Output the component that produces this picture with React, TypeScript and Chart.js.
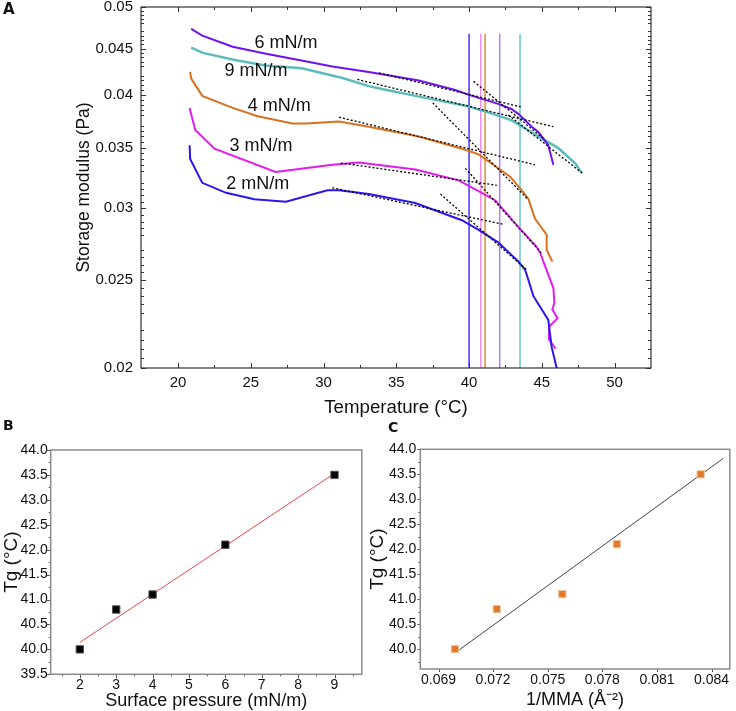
import React, { useEffect, useRef } from 'react';
import { Chart, registerables } from 'chart.js';
Chart.register(...registerables);

const FONT = "'Liberation Sans', Arial, Helvetica, sans-serif";

// ---------- Panel A data ----------
const tempTicksA = [20, 25, 30, 35, 40, 45, 50];
const tempMinorA = [22.5, 27.5, 32.5, 37.5, 42.5, 47.5];
const modTicksA = [0.02, 0.025, 0.03, 0.035, 0.04, 0.045, 0.05];
const modTickLabelsA = ['0.02', '0.025', '0.03', '0.035', '0.04', '0.045', '0.05'];

const curveNames = ['2 mN/m', '3 mN/m', '4 mN/m', '6 mN/m', '9 mN/m'];
const curveColors = ['#2a16f0', '#e21cf0', '#d8701e', '#6f12f5', '#5cbcbc'];

const c2T = [20.79, 20.83, 21.66, 23.3, 25.24, 27.41, 30.26, 31.06, 33.1, 36.3, 39.5, 40.65, 42.02, 43.39, 43.85, 44.42, 45.44, 45.5, 45.67, 46.05];
const c2V = [0.0352, 0.034, 0.032, 0.0312, 0.0307, 0.0305, 0.0314, 0.0314, 0.0311, 0.0304, 0.0291, 0.0284, 0.0275, 0.0262, 0.02566, 0.024, 0.0226, 0.0222, 0.0211, 0.0199];

const c3T = [20.79, 21.18, 22.5, 26.7, 30.6, 32.43, 36.3, 39.28, 40.87, 41.8, 43.39, 44.64, 44.88, 45.22, 45.79, 45.86, 45.72, 46.08, 45.49, 45.49, 45.94];
const c3V = [0.0387, 0.0366, 0.0349, 0.0329, 0.0335, 0.0337, 0.0331, 0.0322, 0.0312, 0.0306, 0.0286, 0.0272, 0.0268, 0.0259, 0.0245, 0.0236, 0.0232, 0.0227, 0.0222, 0.0215, 0.021];

const c4T = [20.83, 20.9, 21.66, 23.75, 25.47, 27.86, 28.78, 31.06, 33.1, 36.54, 39.74, 40.65, 41.79, 42.82, 43.62, 44.08, 44.53, 45.33, 45.33, 45.72];
const c4V = [0.0424, 0.0417, 0.0399, 0.0387, 0.0379, 0.0372, 0.0372, 0.0374, 0.0369, 0.036, 0.0348, 0.0344, 0.0334, 0.0325, 0.0314, 0.0307, 0.0292, 0.02805, 0.027, 0.0262];

const c6T = [20.9, 21.66, 23.75, 26.04, 28.3, 30.6, 33.1, 36.54, 39.05, 40.0, 40.65, 42.0, 42.9, 43.4, 44.3, 44.76, 45.44, 45.79];
const c6V = [0.0473, 0.0465, 0.0452, 0.0444, 0.0437, 0.043, 0.0424, 0.0415, 0.0405, 0.04, 0.0397, 0.0391, 0.0386, 0.0381, 0.0369, 0.0364, 0.0352, 0.0335];

const c9T = [20.9, 21.7, 23.9, 26.0, 28.5, 31.3, 33.1, 34.0, 37.0, 39.85, 41.9, 42.93, 44.76, 46.13, 47.27, 47.75];
const c9V = [0.0451, 0.0445, 0.0437, 0.0431, 0.0428, 0.04175, 0.0409, 0.0406, 0.0397, 0.0389, 0.038, 0.0375, 0.036, 0.03495, 0.03365, 0.0328];

const curvesT = [c2T, c3T, c4T, c6T, c9T];
const curvesV = [c2V, c3V, c4V, c6V, c9V];

// tangent (onset) lines: [start, end]
const tangentT = [
  [33.8, 43.55], [40.31, 45.22],
  [32.32, 45.79], [42.7, 47.77],
  [31.06, 44.53], [37.5, 44.08],
  [31.18, 41.9], [39.74, 44.95],
  [30.6, 42.36], [38.03, 43.96],
];
const tangentV = [
  [0.0423, 0.0388], [0.0414, 0.0357],
  [0.0416, 0.0369], [0.038, 0.0328],
  [0.0378, 0.0335], [0.0392, 0.03065],
  [0.03365, 0.0318], [0.0332, 0.0268],
  [0.0316, 0.0288], [0.0311, 0.02566],
];

// Tg markers
const pressures = [2, 3, 4, 6, 9];
const tgValues = [40.0, 40.8, 41.1, 42.1, 43.5];
const tgLineColors = ['#5b4dff', '#f08cf0', '#e39a55', '#a97cff', '#7fd0d0'];
const tgLineTop = 0.0467;
const tgLineBottom = 0.02;

// curve label positions
const labelT = [25.47, 25.7, 26.95, 27.41, 25.36];
const labelV = [0.0319, 0.03516, 0.03885, 0.04563, 0.04246];

// ---------- Panel B data ----------
const fitBX = [2, 9];
const fitBY = [40.14, 43.53];
const tgTicksB = [39.5, 40.0, 40.5, 41.0, 41.5, 42.0, 42.5, 43.0, 43.5, 44.0];
const tgMinorB = [39.75, 40.25, 40.75, 41.25, 41.75, 42.25, 42.75, 43.25, 43.75];
const pressTicksB = [2, 3, 4, 5, 6, 7, 8, 9];
const pressMinorB = [1.5, 2.5, 3.5, 4.5, 5.5, 6.5, 7.5, 8.5, 9.5];

// ---------- Panel C data ----------
const invMMA = [0.0699, 0.0722, 0.0758, 0.0788, 0.0834];
const fitCX = [0.0699, 0.08465];
const fitCY = [39.92, 43.82];
const tgTicksC = [40.0, 40.5, 41.0, 41.5, 42.0, 42.5, 43.0, 43.5, 44.0];
const tgMinorC = [39.75, 40.25, 40.75, 41.25, 41.75, 42.25, 42.75, 43.25, 43.75];
const mmaTicksC = [0.069, 0.072, 0.075, 0.078, 0.081, 0.084];

const pts = (xs: number[], ys: number[]) => xs.map((x, i) => ({ x, y: ys[i] }));

function makeFrame(o: any) {
  return {
    id: 'frameTicks',
    afterDraw(chart: any) {
      const { ctx, chartArea: a, scales } = chart;
      const xs = scales.x, ys = scales.y;
      ctx.save();
      const d = o.inward ? -1 : 1;
      const line = (x1: number, y1: number, x2: number, y2: number) => {
        ctx.beginPath(); ctx.moveTo(x1, y1); ctx.lineTo(x2, y2); ctx.stroke();
      };
      ctx.strokeStyle = o.tickColor; ctx.lineWidth = 1;
      const doX = (vals: number[], len: number) => vals.forEach((v) => {
        const p = Math.round(xs.getPixelForValue(v)) + 0.5;
        line(p, a.bottom, p, a.bottom + d * len);
        if (o.topTicks) line(p, a.top, p, a.top - d * len);
      });
      const doY = (vals: number[], len: number) => vals.forEach((v) => {
        const p = Math.round(ys.getPixelForValue(v)) + 0.5;
        line(a.left, p, a.left - d * len, p);
        if (o.rightTicks) line(a.right, p, a.right + d * len, p);
      });
      doX(o.xMajor, o.major); doX(o.xMinor, o.minor);
      doY(o.yMajor, o.major); doY(o.yMinor, o.minor);
      ctx.strokeStyle = o.color; ctx.lineWidth = o.width;
      ctx.strokeRect(a.left, a.top, a.right - a.left, a.bottom - a.top);
      ctx.restore();
    },
  };
}

const minorModA: number[] = [];
for (let k = 41; k < 100; k++) if (k % 10 !== 0 && k % 10 !== 5) minorModA.push(k * 0.0005);

const curveLabelPlugin = {
  id: 'curveLabels',
  afterDatasetsDraw(chart: any) {
    const { ctx, scales: { x, y } } = chart;
    ctx.save();
    ctx.font = `18px ${FONT}`;
    ctx.fillStyle = '#111';
    ctx.textAlign = 'center';
    ctx.textBaseline = 'middle';
    curveNames.forEach((t, i) => ctx.fillText(t, x.getPixelForValue(labelT[i]), y.getPixelForValue(labelV[i])));
    ctx.restore();
  },
};

function configA(): any {
  const tangents = tangentT.map((tt, i) => ({
    data: pts(tt, tangentV[i]), borderColor: '#000', borderWidth: 1.3, borderDash: [2, 2], pointRadius: 0, order: 0,
  }));
  const curves = curvesT.map((tt, i) => ({
    data: pts(tt, curvesV[i]), borderColor: curveColors[i], borderWidth: i === 4 ? 2.5 : 2, pointRadius: 0, order: 1,
  }));
  const verticals = tgValues.map((t, i) => ({
    data: pts([t, t], [tgLineTop, tgLineBottom]), borderColor: tgLineColors[i], borderWidth: 1, pointRadius: 0, order: 2,
  }));
  return {
    type: 'line',
    data: { datasets: [...tangents, ...curves, ...verticals] },
    options: {
      animation: false, responsive: false,
      layout: { padding: { left: 0, top: 7, right: 85, bottom: 0 } },
      plugins: { legend: { display: false }, tooltip: { enabled: false } },
      elements: { line: { tension: 0 }, point: { radius: 0 } },
      scales: {
        x: {
          type: 'linear', min: 17.45, max: 52.5,
          grid: { display: false, drawTicks: false }, border: { display: false },
          afterBuildTicks: (s: any) => { s.ticks = tempTicksA.map((v) => ({ value: v })); },
          afterFit: (s: any) => { s.height = 52; s.paddingLeft = 0; s.paddingRight = 0; },
          ticks: { font: { family: FONT, size: 15 }, color: '#111', padding: 6, maxRotation: 0, autoSkip: false, callback: (v: any) => String(v) },
          title: { display: true, text: 'Temperature (°C)', color: '#111', font: { family: FONT, size: 18.7, lineHeight: 1 }, padding: { top: 0, bottom: 3 } },
        },
        y: {
          type: 'logarithmic', min: 0.02, max: 0.05,
          grid: { display: false, drawTicks: false }, border: { display: false },
          afterBuildTicks: (s: any) => { s.ticks = modTicksA.map((v) => ({ value: v })); },
          afterFit: (s: any) => { s.width = 141; s.paddingTop = 0; s.paddingBottom = 0; },
          ticks: { font: { family: FONT, size: 15 }, color: '#111', padding: 8, autoSkip: false, callback: (_v: any, i: number) => modTickLabelsA[i] },
          title: { display: true, text: 'Storage modulus (Pa)', color: '#111', font: { family: FONT, size: 17.5, lineHeight: 1 }, padding: { top: 75, bottom: 0 } },
        },
      },
    },
    plugins: [
      makeFrame({ color: '#333', width: 1.2, tickColor: '#333', inward: true, topTicks: true, rightTicks: true, major: 5, minor: 3,
        xMajor: tempTicksA, xMinor: tempMinorA, yMajor: modTicksA, yMinor: minorModA }),
      curveLabelPlugin,
    ],
  };
}

function configB(): any {
  return {
    type: 'line',
    data: {
      datasets: [
        { data: pts(pressures, tgValues), showLine: false, pointStyle: 'rect', pointRadius: 5.2, backgroundColor: '#000', borderColor: '#555', borderWidth: 1, order: 0 },
        { data: pts(fitBX, fitBY), borderColor: '#e04848', borderWidth: 1, pointRadius: 0, order: 1 },
      ],
    },
    options: {
      animation: false, responsive: false,
      layout: { padding: { left: 0, top: 35, right: 2, bottom: 0 } },
      plugins: { legend: { display: false }, tooltip: { enabled: false } },
      elements: { line: { tension: 0 } },
      scales: {
        x: {
          type: 'linear', min: 1.2, max: 9.75,
          grid: { display: false, drawTicks: false }, border: { display: false },
          afterBuildTicks: (s: any) => { s.ticks = pressTicksB.map((v) => ({ value: v })); },
          afterFit: (s: any) => { s.height = 36.7; s.paddingLeft = 0; s.paddingRight = 0; },
          ticks: { font: { family: FONT, size: 14 }, color: '#111', padding: 2.5, maxRotation: 0, autoSkip: false, callback: (v: any) => String(v) },
          title: { display: true, text: 'Surface pressure (mN/m)', color: '#111', font: { family: FONT, size: 18, lineHeight: 1 }, padding: { top: 0, bottom: 0.5 } },
        },
        y: {
          type: 'linear', min: 39.5, max: 44.0,
          grid: { display: false, drawTicks: false }, border: { display: false },
          afterBuildTicks: (s: any) => { s.ticks = tgTicksB.map((v) => ({ value: v })); },
          afterFit: (s: any) => { s.width = 50.7; s.paddingTop = 0; s.paddingBottom = 0; },
          ticks: { font: { family: FONT, size: 14 }, color: '#111', padding: 3, autoSkip: false, callback: (v: any) => Number(v).toFixed(1) },
          title: { display: true, text: 'Tg (°C)', color: '#111', font: { family: FONT, size: 19, lineHeight: 1 }, padding: { top: 2.5, bottom: 0 } },
        },
      },
    },
    plugins: [
      makeFrame({ color: '#8a8a8a', width: 1.5, tickColor: '#555', inward: false, topTicks: false, rightTicks: false, major: 4, minor: 2,
        xMajor: pressTicksB, xMinor: pressMinorB, yMajor: tgTicksB, yMinor: tgMinorB }),
    ],
  };
}

function configC(): any {
  return {
    type: 'line',
    data: {
      datasets: [
        { data: pts(invMMA, tgValues), showLine: false, pointStyle: 'rect', pointRadius: 5.2, backgroundColor: '#e07a2a', borderColor: '#f6c9a0', borderWidth: 1, order: 0 },
        { data: pts(fitCX, fitCY), borderColor: '#444', borderWidth: 1, pointRadius: 0, order: 1 },
      ],
    },
    options: {
      animation: false, responsive: false,
      layout: { padding: { left: 0, top: 34.3, right: 2.3, bottom: 0 } },
      plugins: { legend: { display: false }, tooltip: { enabled: false } },
      elements: { line: { tension: 0 } },
      scales: {
        x: {
          type: 'linear', min: 0.068, max: 0.085,
          grid: { display: false, drawTicks: false }, border: { display: false },
          afterBuildTicks: (s: any) => { s.ticks = mmaTicksC.map((v) => ({ value: v })); },
          afterFit: (s: any) => { s.height = 42; s.paddingLeft = 0; s.paddingRight = 0; },
          ticks: { font: { family: FONT, size: 14 }, color: '#111', padding: 3, maxRotation: 0, autoSkip: false, callback: (v: any) => Number(v).toFixed(3) },
          title: { display: true, text: '1/MMA (Å⁻²)', color: '#111', font: { family: FONT, size: 18, lineHeight: 1 }, padding: { top: 0, bottom: 2 } },
        },
        y: {
          type: 'linear', min: 39.6, max: 44.0,
          grid: { display: false, drawTicks: false }, border: { display: false },
          afterBuildTicks: (s: any) => { s.ticks = tgTicksC.map((v) => ({ value: v })); },
          afterFit: (s: any) => { s.width = 54.3; s.paddingTop = 0; s.paddingBottom = 0; },
          ticks: { font: { family: FONT, size: 14 }, color: '#111', padding: 4, autoSkip: false, callback: (v: any) => Number(v).toFixed(1) },
          title: { display: true, text: 'Tg (°C)', color: '#111', font: { family: FONT, size: 19, lineHeight: 1 }, padding: { top: 2.5, bottom: 0 } },
        },
      },
    },
    plugins: [
      makeFrame({ color: '#8a8a8a', width: 1.5, tickColor: '#555', inward: false, topTicks: false, rightTicks: false, major: 3, minor: 2,
        xMajor: mmaTicksC, xMinor: [], yMajor: tgTicksC, yMinor: tgMinorC }),
    ],
  };
}

export default function App() {
  const refA = useRef<HTMLCanvasElement>(null);
  const refB = useRef<HTMLCanvasElement>(null);
  const refC = useRef<HTMLCanvasElement>(null);

  useEffect(() => {
    const charts = [
      new Chart(refA.current as HTMLCanvasElement, configA()),
      new Chart(refB.current as HTMLCanvasElement, configB()),
      new Chart(refC.current as HTMLCanvasElement, configC()),
    ];
    return () => charts.forEach((c) => c.destroy());
  }, []);

  const panelLabel: React.CSSProperties = {
    position: 'absolute', fontFamily: "'DejaVu Sans', Arial, sans-serif", fontWeight: 'bold', color: '#111',
  };

  return (
    <div style={{ position: 'absolute', left: 0, top: 0, width: 736, height: 711, overflow: 'hidden', background: '#fff' }}>
      <canvas ref={refA} width={736} height={420} style={{ position: 'absolute', left: 0, top: 0 }} />
      <canvas ref={refB} width={368} height={296} style={{ position: 'absolute', left: 0, top: 415 }} />
      <canvas ref={refC} width={370} height={296} style={{ position: 'absolute', left: 366, top: 415 }} />
      <div style={{ ...panelLabel, left: 3, top: 2, fontSize: 15, lineHeight: '15px' }}>A</div>
      <div style={{ ...panelLabel, left: 3, top: 418, fontSize: 14, lineHeight: '14px' }}>B</div>
      <div style={{ ...panelLabel, left: 388, top: 420, fontSize: 14, lineHeight: '14px' }}>C</div>
    </div>
  );
}
